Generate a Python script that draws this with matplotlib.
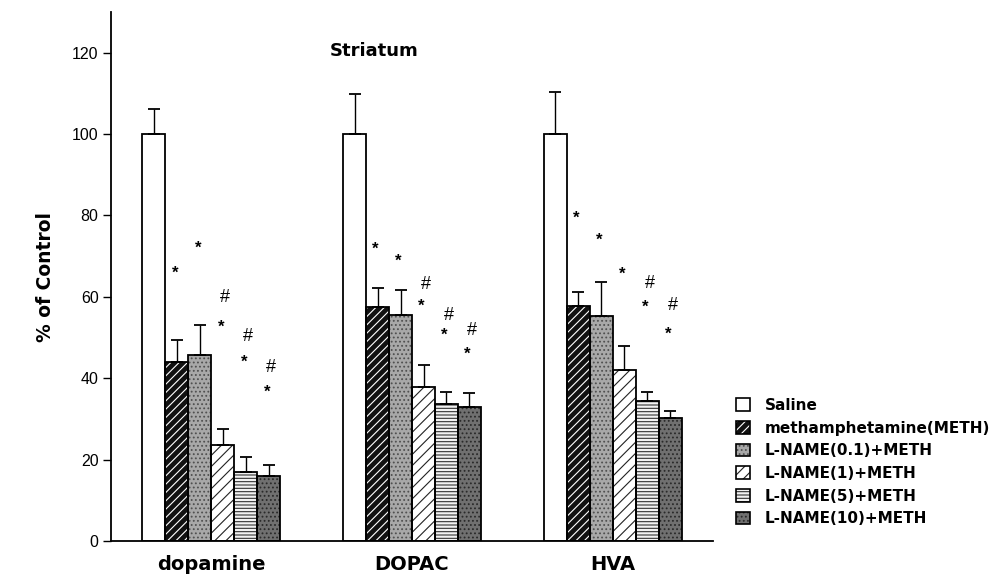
import numpy as np
import matplotlib
matplotlib.use("Agg")
import matplotlib.pyplot as plt
from matplotlib.patches import Patch
from matplotlib.legend_handler import HandlerTuple

# Data (% of control)
regions = ["dopamine", "DOPAC", "HVA"]
groups = [
    "Saline",
    "methamphetamine(METH)",
    "L-NAME(0.1)+METH",
    "L-NAME(1)+METH",
    "L-NAME(5)+METH",
    "L-NAME(10)+METH",
]
saline = [100, 100, 100]
meth = [44.0, 57.6, 57.7]
lname_01 = [45.6, 55.5, 55.3]
lname_1 = [23.5, 37.8, 42.1]
lname_5 = [17.0, 33.6, 34.4]
lname_10 = [15.9, 32.9, 30.2]

saline_sem = [6.1, 9.9, 10.4]
meth_sem = [5.3, 4.6, 3.4]
lname_01_sem = [7.6, 6.3, 8.3]
lname_1_sem = [4.0, 5.5, 5.9]
lname_5_sem = [3.7, 3.0, 2.1]
lname_10_sem = [2.7, 3.5, 1.8]

# significance marks: height of "*" and "#" above each bar (None = no mark)
star_y = [
    [None, None, None],
    [65.9, 71.8, 79.2],
    [72.0, 68.7, 74.0],
    [52.6, 57.7, 65.5],
    [44.0, 50.6, 57.5],
    [36.6, 45.8, 50.7],
]
hash_y = [
    [None, None, None],
    [None, None, None],
    [None, None, None],
    [59.8, 63.0, None],
    [50.3, 55.5, 63.2],
    [42.6, 51.7, 57.9],
]

values = [saline, meth, lname_01, lname_1, lname_5, lname_10]
sems = [saline_sem, meth_sem, lname_01_sem, lname_1_sem, lname_5_sem, lname_10_sem]

# face color, hatch, hatch color
styles = [
    ("white", "", "black"),
    ("#111111", "////", "white"),
    ("#a8a8a8", "....", "#505050"),
    ("white", "///", "#222222"),
    ("#f2f2f2", "-----", "#333333"),
    ("#707070", "....", "#2a2a2a"),
]

plt.rcParams["font.family"] = ["Liberation Sans", "DejaVu Sans"]
plt.rcParams["hatch.linewidth"] = 0.8

fig = plt.figure(figsize=(9.92, 5.79), dpi=100)
ax = fig.add_axes([0.1119, 0.0656, 0.6069, 0.9137])

x = np.arange(len(regions))
w = 0.1144

for i, (vals, err, (fc, hatch, hc)) in enumerate(zip(values, sems, styles)):
    pos = x + (i - 2.5) * w
    # hatch layer then black outline on top
    ax.bar(pos, vals, width=w, color=fc, edgecolor=hc, hatch=hatch, linewidth=0, zorder=2)
    ax.bar(pos, vals, width=w, fill=False, edgecolor="black", linewidth=1.3, zorder=3)
    ax.errorbar(pos, vals, yerr=[np.zeros(len(vals)), err], fmt="none",
                ecolor="black", elinewidth=1.0, capsize=4, capthick=1.3, zorder=4)
    for j in range(len(regions)):
        if star_y[i][j] is not None:
            ax.text(pos[j] - 0.01, star_y[i][j], "*", ha="center", va="center",
                    fontsize=12, fontweight="bold")
        if hash_y[i][j] is not None:
            ax.text(pos[j] + 0.012, hash_y[i][j], "#", ha="center", va="center",
                    fontsize=13)

ax.set_xlim(-0.5, 2.5)
ax.set_ylim(0, 130)
ax.set_yticks([0, 20, 40, 60, 80, 100, 120])
ax.tick_params(axis="y", direction="out", length=6, width=1, labelsize=11.5, pad=3)
ax.set_xticks(x)
ax.set_xticklabels(regions, fontsize=14, fontweight="bold")
ax.tick_params(axis="x", length=0, pad=10)
for lab in ax.get_xticklabels():
    lab.set_fontfamily(["DejaVu Sans"])
ax.spines["top"].set_visible(False)
ax.spines["right"].set_visible(False)
ax.spines["left"].set_linewidth(1.3)
ax.spines["bottom"].set_linewidth(1.3)

ax.set_ylabel("% of Control", fontsize=13.5, fontweight="bold", labelpad=12,
              family=["DejaVu Sans"])
ax.text(0.81, 120.4, "Striatum", ha="center", va="center", fontsize=13,
        fontweight="bold", family=["DejaVu Sans"])

# legend with hatch + outline overlaid
handles = []
for fc, hatch, hc in styles:
    h1 = Patch(facecolor=fc, edgecolor=hc, hatch=hatch, linewidth=0)
    h2 = Patch(fill=False, edgecolor="black", linewidth=1.2)
    handles.append((h1, h2))
leg = fig.legend(handles, groups, handler_map={tuple: HandlerTuple(ndivide=1, pad=0)},
                 loc="upper left", bbox_to_anchor=(0.742, 0.3126), frameon=False,
                 prop={"weight": "bold", "size": 11, "family": "DejaVu Sans"},
                 handlelength=0.9, handleheight=0.9, labelspacing=0.5,
                 handletextpad=1.0, borderpad=0, borderaxespad=0)

fig.savefig("out.png", dpi=100)
